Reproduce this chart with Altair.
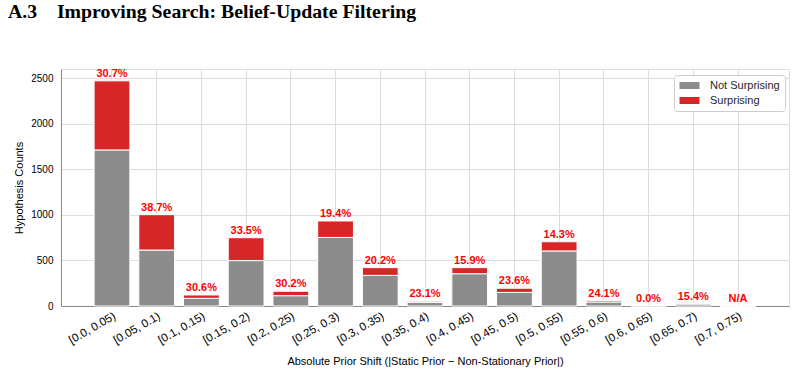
import altair as alt
import pandas as pd

# Prior-shift bins and hypothesis counts per bin
bins = ["[0.0, 0.05)", "[0.05, 0.1)", "[0.1, 0.15)", "[0.15, 0.2)", "[0.2, 0.25)",
        "[0.25, 0.3)", "[0.3, 0.35)", "[0.35, 0.4)", "[0.4, 0.45)", "[0.45, 0.5)",
        "[0.5, 0.55)", "[0.55, 0.6)", "[0.6, 0.65)", "[0.65, 0.7)", "[0.7, 0.75)"]
not_surprising = [1712, 614, 84, 498, 113, 752, 336, 40, 354, 149, 604, 44, 3, 22, 0]
surprising = [758, 388, 37, 251, 49, 181, 85, 12, 67, 46, 101, 14, 0, 4, 0]

categories = ["Not Surprising", "Surprising"]
colors = ["#8c8c8c", "#d62728"]

rows = []
for b, n, s in zip(bins, not_surprising, surprising):
    rows.append({"bin": b, "kind": "Not Surprising", "count": n, "order": 0})
    rows.append({"bin": b, "kind": "Surprising", "count": s, "order": 1})
bars_df = pd.DataFrame(rows)

labels = []
for b, n, s in zip(bins, not_surprising, surprising):
    total = n + s
    text = f"{100 * s / total:.1f}%" if total > 0 else "N/A"
    labels.append({"bin": b, "total": total, "label": text})
labels_df = pd.DataFrame(labels)

FONT = "Liberation Sans"
INK = "#262626"

x_scale = alt.Scale(paddingInner=0.2, paddingOuter=0.74)
x_enc = alt.X(
    "bin:N",
    sort=bins,
    scale=x_scale,
    axis=alt.Axis(
        title="Absolute Prior Shift (|Static Prior \u2212 Non-Stationary Prior|)",
        labelAngle=-30, labelAlign="right", labelBaseline="top",
        labelPadding=4, labelFontSize=11.5, ticks=False, grid=True,
        titleFontWeight="normal", titleY=55, titleBaseline="middle",
    ),
)
y_scale = alt.Scale(domain=[0, 2600], nice=False)
y_axis = alt.Axis(title="Hypothesis Counts", values=[0, 500, 1000, 1500, 2000, 2500],
                  format="d", ticks=False, labelPadding=8, titlePadding=6,
                  titleFontWeight="normal")

bars = alt.Chart(bars_df).mark_bar(stroke="white", strokeWidth=1).encode(
    x=x_enc,
    y=alt.Y("count:Q", stack="zero", scale=y_scale, axis=y_axis),
    color=alt.Color(
        "kind:N",
        scale=alt.Scale(domain=categories, range=colors),
        legend=alt.Legend(
            title=None, orient="none", legendX=613, legendY=6,
            symbolType="M-1,-0.7L3,-0.7L3,0.7L-1,0.7Z", symbolSize=100,
            symbolStrokeWidth=0, labelOffset=20, padding=5, rowPadding=3,
            labelFontSize=11, labelFont=FONT, labelColor=INK,
            strokeColor="#cccccc", fillColor="white", cornerRadius=3,
        ),
    ),
    order=alt.Order("order:Q"),
)

text = alt.Chart(labels_df).mark_text(
    color="#ff0000", fontWeight="bold", fontSize=11, font=FONT,
    baseline="bottom", dy=-2,
).encode(
    x=alt.X("bin:N", sort=bins, scale=x_scale),
    y=alt.Y("total:Q", scale=y_scale, axis=y_axis),
    text="label:N",
)

chart = alt.layer(bars, text).properties(
    width=728, height=237,
    autosize=alt.AutoSizeParams(type="none"),
    padding={"left": 61, "top": 69, "right": 8, "bottom": 67},
    title=alt.TitleParams(
        "A.3\u00a0\u00a0\u00a0\u00a0Improving Search: Belief-Update Filtering",
        anchor="start", frame="group", font="Liberation Serif", fontSize=19.8,
        fontWeight="bold", color="black", baseline="alphabetic", dx=-53, offset=0, dy=-30,
    ),
).configure_view(
    stroke="#cccccc", strokeWidth=1
).configure_axis(
    domainColor="#cccccc", gridColor="#d9d9d9", gridWidth=1.2,
    labelFont=FONT, labelFontSize=11, labelColor=INK,
    titleFont=FONT, titleFontSize=11, titleColor=INK, titleFontWeight="normal",
).configure(background="white")

chart.save("out.html", embed_options={"renderer": "svg", "actions": False})
